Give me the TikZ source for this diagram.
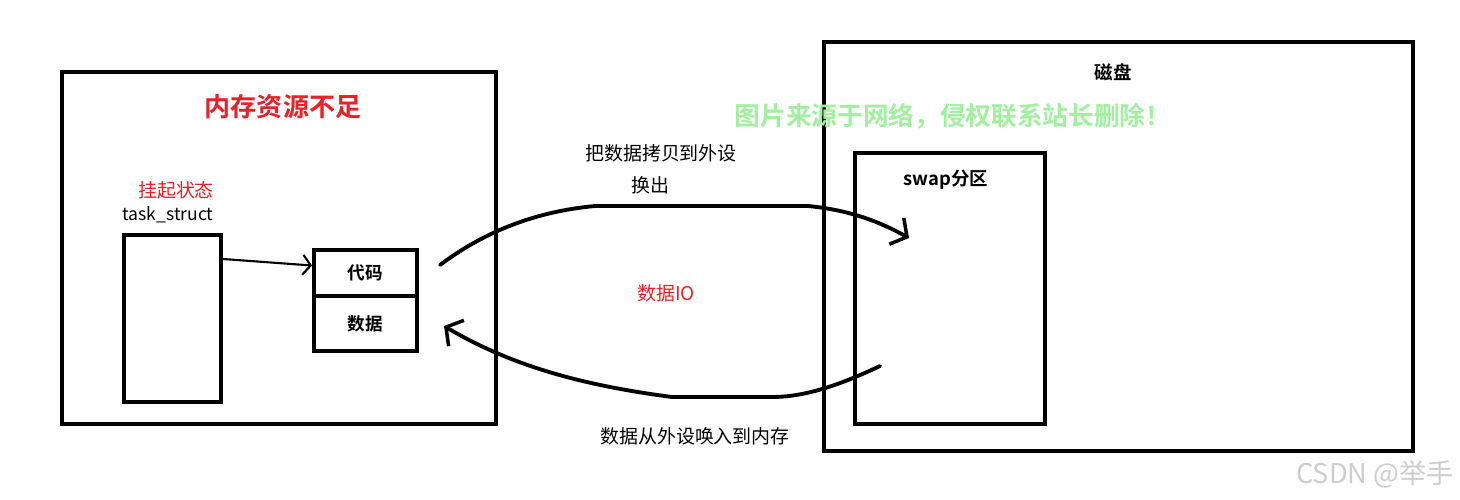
\documentclass[tikz,border=0pt]{standalone}
\usepackage{fontspec}
\setmainfont{Noto Sans CJK SC}[BoldFont={Noto Sans CJK SC Bold}]
\usetikzlibrary{calc,arrows.meta}
\definecolor{redtxt}{RGB}{232,32,40}
\definecolor{wmgreen}{RGB}{160,240,160}
\definecolor{wmgray}{RGB}{205,205,205}
\tikzstyle{box}=[draw=black,line width=2.2pt,inner sep=0pt]
\tikzstyle{lbl}=[font=\fontsize{10.8}{12}\selectfont,inner sep=0pt]
\tikzstyle{hand}=[line width=2.2pt,line cap=round,line join=round]

\begin{document}
\begin{tikzpicture}[x=0.02cm,y=-0.02cm]
		\useasboundingbox (0,0) rectangle (1460,500);
		% memory side
		\node [box,minimum width=8.68cm,minimum height=7.04cm] (mem) at (279,248) {};
		\node [lbl,text=redtxt,font=\fontsize{14.8}{16}\selectfont\bfseries] (memt) at (283,107) {内存资源不足};
		\node [lbl,text=redtxt] (hang) at (176,190) {挂起状态};
		\node [lbl,font=\fontsize{10}{12}\selectfont] (tst) at (168,215) {task\_struct};
		\node [box,line width=1.8pt,minimum width=1.94cm,minimum height=3.34cm] (ts) at (172.5,318.5) {};
		\node [box,minimum width=2.06cm,minimum height=0.92cm,font=\fontsize{10}{12}\selectfont\bfseries] (code) at (365.5,273) {代码};
		\node [box,minimum width=2.06cm,minimum height=1.10cm,font=\fontsize{10}{12}\selectfont\bfseries] (data) at (365.5,323.5) {数据};
		% disk side
		\node [box,minimum width=11.78cm,minimum height=8.18cm] (disk) at (1118.5,246.5) {};
		\node [lbl,font=\fontsize{10.5}{12}\selectfont\bfseries] (diskt) at (1113,72) {磁盘};
		\node [box,minimum width=3.80cm,minimum height=5.42cm] (swap) at (950,288.5) {};
		\node [lbl,font=\fontsize{10.5}{12}\selectfont\bfseries] (swapt) at (946,180) {swap分区};
		% texts between
		\node [lbl] (copy) at (661,153) {把数据拷贝到外设};
		\node [lbl] (out) at (650,185) {换出};
		\node [lbl,text=redtxt] (io) at (666,293) {数据IO};
		\node [lbl] (back) at (695,436) {数据从外设唤入到内存};
		% watermarks
		\node [lbl,text=wmgreen,font=\fontsize{14.6}{16}\selectfont\bfseries] (wm) at (953,116) {图片来源于网络，侵权联系站长删除！};
		\node [lbl,text=wmgray,font=\fontsize{15.5}{18}\selectfont] (csdn) at (1375,474) {CSDN @举手};
		% connectors
		\coordinate (o1) at (440,265);
		\coordinate (o2) at (909,238);
		\coordinate (i1) at (880,366);
		\coordinate (i2) at (444,326);
		\draw [line width=1.2pt,-{Straight Barb[length=1.6mm,width=4mm]}] ($(ts.north east)!0.15!(ts.south east)$) -- ($(code.north west)!0.35!(code.south west)$);
		\draw [hand,-{Straight Barb[length=2.4mm,width=6mm,line width=2pt]}] (o1) .. controls (480,235) and (530,212) .. (595,206) -- (808,206) .. controls (850,210) and (880,222) .. (o2);
		\draw [hand,-{Straight Barb[length=2.4mm,width=6mm,line width=2pt]}] (i1) .. controls (840,385) and (805,397) .. (772,397) -- (672,397) .. controls (580,385) and (510,365) .. (i2);
\end{tikzpicture}
\end{document}
